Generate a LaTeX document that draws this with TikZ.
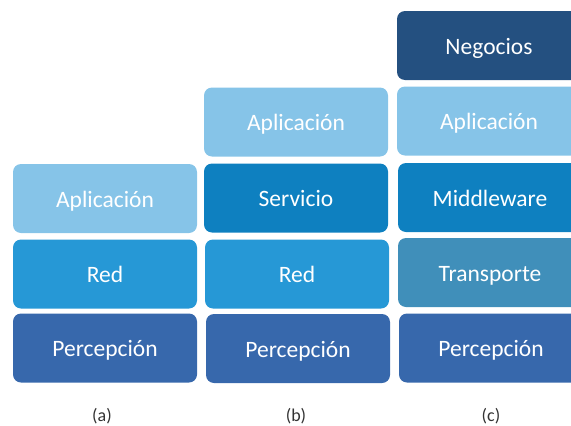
\documentclass[tikz,border=0pt]{standalone}
\usepackage{fontspec}
\setmainfont{Carlito}
\definecolor{capApl}{RGB}{134,196,232}
\definecolor{capRed}{RGB}{38,152,214}
\definecolor{capPerc}{RGB}{55,104,172}
\definecolor{capServ}{RGB}{14,128,192}
\definecolor{capTrans}{RGB}{64,143,186}
\definecolor{capNeg}{RGB}{36,80,128}
\tikzset{
	capa/.style = {rounded corners = 8pt, minimum width = 184pt, minimum height = 69pt,
		inner sep = 0pt, text height = 18pt, text depth = 1pt, text = white,
		font = \fontsize{23.5}{27}\selectfont},
	etiqueta/.style = {text = black!80, font = \fontsize{18}{21}\selectfont}
}
\begin{document}
\begin{tikzpicture}[x = 1pt, y = -1pt]
		\clip (0,0) rectangle (571,426);
		% (a)
		\node[capa, fill = capApl]  (aApl)  at (105,198.5) {Aplicación};
		\node[capa, fill = capRed]  (aRed)  at (105,274)   {Red};
		\node[capa, fill = capPerc] (aPerc) at (105,348)   {Percepción};
		% (b)
		\node[capa, fill = capApl]  (bApl)  at (296,122)   {Aplicación};
		\node[capa, fill = capServ] (bServ) at (296,198)   {Servicio};
		\node[capa, fill = capRed]  (bRed)  at (297,274)   {Red};
		\node[capa, fill = capPerc] (bPerc) at (298,348.5) {Percepción};
		% (c)
		\node[capa, fill = capNeg]   (cNeg)   at (489,45.5)  {Negocios};
		\node[capa, fill = capApl]   (cApl)   at (489,121)   {Aplicación};
		\node[capa, fill = capServ]  (cMid)   at (490,197.5) {Middleware};
		\node[capa, fill = capTrans] (cTrans) at (490,272.5) {Transporte};
		\node[capa, fill = capPerc]  (cPerc)  at (491,348)   {Percepción};
		\node[etiqueta] (la) at (102,416) {(a)};
		\node[etiqueta] (lb) at (296,416) {(b)};
		\node[etiqueta] (lc) at (491,416) {(c)};
		\end{tikzpicture}
\end{document}
